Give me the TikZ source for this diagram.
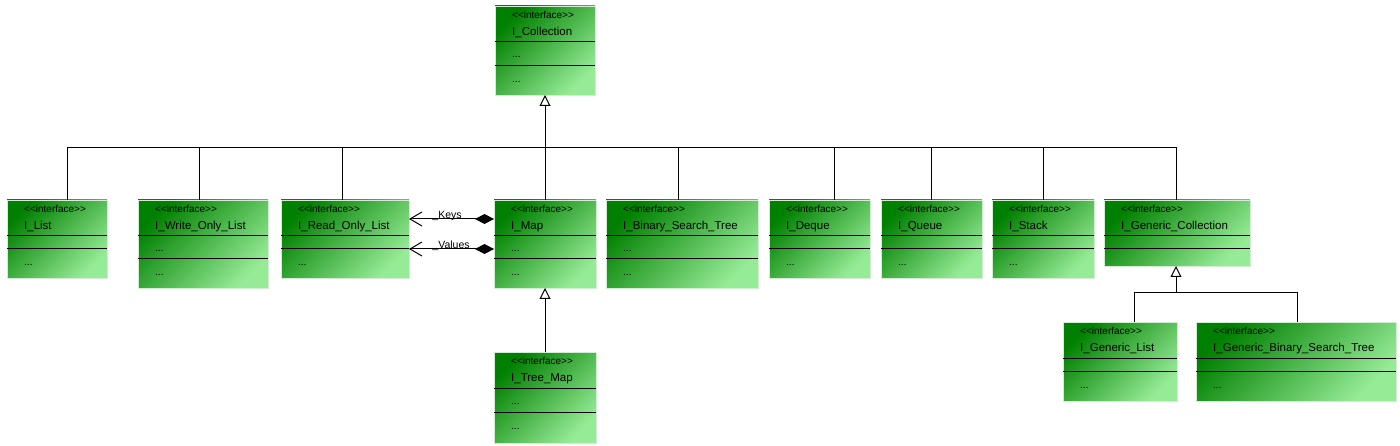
\documentclass[tikz,border=0pt]{standalone}
\usepackage{fontspec}
\setmainfont{Liberation Sans}
\usetikzlibrary{arrows.meta}
\definecolor{gdark}{RGB}{0,128,0}
\definecolor{glight}{RGB}{150,235,150}
\definecolor{gedge}{RGB}{210,238,210}
\tikzset{
  umlbox/.style={rectangle, anchor=north west, inner sep=0pt, outer sep=0pt,
    top color=gdark, bottom color=glight, shading angle=45,
    draw=gedge, line width=0.6pt},
  sepline/.style={draw=black, line width=1pt},
  stereo/.style={anchor=base west, inner sep=0pt, font=\fontsize{10}{11}\selectfont},
  nm/.style={anchor=base west, inner sep=0pt, font=\fontsize{11.5}{12}\selectfont},
  dotlbl/.style={anchor=base west, inner sep=0pt, font=\fontsize{10}{11}\selectfont},
  conn/.style={draw=black, line width=1pt},
  inherit/.style={conn, -{Triangle[open, length=11pt, width=11pt, line width=1pt]}},
  comp/.style={conn, {Diamond[length=19pt, width=10pt]}-{Straight Barb[length=12pt, width=14pt, line width=1pt]}},
  rolelbl/.style={anchor=base west, inner sep=0pt, font=\fontsize{10.5}{11}\selectfont},
}
\newcommand\stereotxt{<\kern0pt<interface>\kern0pt>}
% #1 name, #2 x, #3 y, #4 width, #5 height, #6 second separator offset,
% #7 label, #8 attribute text, #9 operation text
\newcommand\iface[9]{%
  \node[umlbox, minimum width=#4pt, minimum height=#5pt] (#1) at (#2,#3) {};
  \draw[sepline] ([yshift=-36pt]#1.north west) -- ([yshift=-36pt]#1.north east);
  \draw[sepline] ([yshift=-#6pt]#1.north west) -- ([yshift=-#6pt]#1.north east);
  \node[stereo] (#1-st) at ([xshift=17pt,yshift=-12.5pt]#1.north west) {\stereotxt};
  \node[nm] (#1-nm) at ([xshift=17pt,yshift=-29.5pt]#1.north west) {#7};
  \node[dotlbl] (#1-at) at ([xshift=17pt,yshift=-52pt]#1.north west) {#8};
  \node[dotlbl] (#1-op) at ([xshift=17pt,yshift=-#6pt-17pt]#1.north west) {#9};
}
\begin{document}
\begin{tikzpicture}[x=1pt, y=-1pt]
\useasboundingbox (0,0) rectangle (1400,446);

\iface{Coll}{495}{6}{100}{89}{60}{I\_Collection}{...}{...}
\iface{List}{7}{200}{100}{78}{49}{I\_List}{}{...}
\iface{WOL}{138}{200}{130}{88}{59}{I\_Write\_Only\_List}{...}{...}
\iface{ROL}{281}{200}{128}{78}{49}{I\_Read\_Only\_List}{}{...}
\iface{Map}{494}{200}{102}{88}{59}{I\_Map}{...}{...}
\iface{BST}{606}{200}{152}{88}{59}{I\_Binary\_Search\_Tree}{...}{...}
\iface{Deque}{769}{200}{101}{78}{49}{I\_Deque}{}{...}
\iface{Queue}{881}{200}{101}{78}{49}{I\_Queue}{}{...}
\iface{Stack}{992}{200}{102}{78}{49}{I\_Stack}{}{...}
\iface{GColl}{1104}{200}{146}{66}{49}{I\_Generic\_Collection}{}{}
\iface{GList}{1063}{322}{114}{79}{49}{I\_Generic\_List}{}{...}
\iface{GBST}{1196}{322}{200}{79}{49}{I\_Generic\_Binary\_Search\_Tree}{}{...}
\iface{TMap}{494}{352}{102}{91}{60}{I\_Tree\_Map}{...}{...}

% inheritance tree from I_Collection
\coordinate (bus) at (545,148);
\draw[inherit] (Map.north) -- (Coll.south);
\draw[conn] ([xshift=60pt]List.north west) |- (bus);
\draw[conn] ([xshift=61pt]WOL.north west) |- (bus);
\draw[conn] ([xshift=61pt]ROL.north west) |- (bus);
\draw[conn] ([xshift=72pt]BST.north west) |- (bus);
\draw[conn] ([xshift=65pt]Deque.north west) |- (bus);
\draw[conn] ([xshift=50pt]Queue.north west) |- (bus);
\draw[conn] ([xshift=51pt]Stack.north west) |- (bus);
\draw[conn] ([xshift=72pt]GColl.north west) |- (bus);

% generic collection tree
\coordinate (gbus) at (1176,293);
\draw[inherit] (gbus) -- (gbus |- GColl.south);
\draw[conn] ([xshift=71pt]GList.north west) |- (gbus);
\draw[conn] ([xshift=101pt]GBST.north west) |- (gbus);

% tree map
\draw[inherit] (TMap.north) -- (Map.south);

% compositions
\draw[comp] ([yshift=-19pt]Map.north west) -- ([yshift=-19pt]ROL.north east)
  node[rolelbl, pos=0.73] {\_Keys};
\draw[comp] ([yshift=-49pt]Map.north west) -- ([yshift=-49pt]ROL.north east)
  node[rolelbl, pos=0.73] {\_Values};
\end{tikzpicture}
\end{document}
